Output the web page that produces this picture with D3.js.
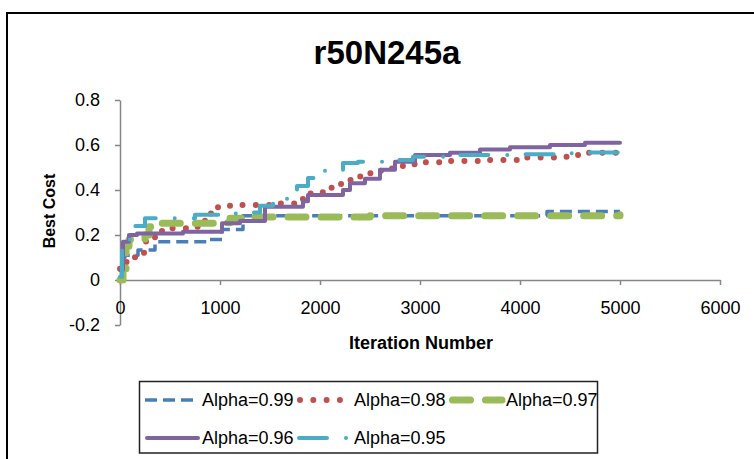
<!DOCTYPE html>
<html>
<head>
<meta charset="utf-8">
<script src="https://cdn.jsdelivr.net/npm/d3@7"></script>
<style>
    body { margin: 0; background: #fff; }
    svg text { font-family: "Liberation Sans", Arial, sans-serif; fill: #000; }
</style>
</head>
<body>
<svg id="chart" width="754" height="459"></svg>
<script>
// series names (legend order)
var seriesNames = ["Alpha=0.99", "Alpha=0.98", "Alpha=0.97", "Alpha=0.96", "Alpha=0.95"];

// step points: iteration -> best cost
var iter99 = [0, 50, 180, 350, 900, 1020, 1230, 4270, 5000];
var cost99 = [0.10, 0.11, 0.133, 0.17, 0.18, 0.225, 0.286, 0.305, 0.305];

var iter98 = [0, 60, 150, 240, 260, 420, 700, 850, 910, 980, 1100, 1550, 1800, 1880, 1980, 2080, 2170, 2270, 2370, 2490, 2610, 2750, 2880, 3000, 3280, 3580, 3970, 4380, 4510, 4630, 5000];
var cost98 = [0.05, 0.08, 0.107, 0.136, 0.19, 0.23, 0.237, 0.267, 0.30, 0.326, 0.333, 0.34, 0.36, 0.385, 0.39, 0.41, 0.427, 0.444, 0.46, 0.474, 0.496, 0.507, 0.514, 0.523, 0.529, 0.533, 0.545, 0.548, 0.556, 0.566, 0.566];

var iter97 = [0, 30, 60, 90, 250, 290, 400, 980, 1100, 1350, 2500, 5000];
var cost97 = [0.0, 0.05, 0.15, 0.18, 0.20, 0.237, 0.252, 0.255, 0.274, 0.28, 0.286, 0.29];

var iter96 = [0, 30, 90, 170, 630, 1020, 1200, 1450, 1830, 1880, 2230, 2300, 2450, 2600, 2750, 2950, 3300, 3600, 3900, 4300, 4650, 5000];
var cost96 = [0.044, 0.17, 0.20, 0.207, 0.215, 0.252, 0.262, 0.326, 0.35, 0.378, 0.40, 0.43, 0.45, 0.49, 0.526, 0.556, 0.566, 0.58, 0.59, 0.60, 0.61, 0.61];

var iter95 = [0, 20, 80, 140, 250, 750, 1000, 1300, 1400, 1530, 1670, 1770, 1880, 2050, 2230, 2380, 2670, 2930, 3300, 3980, 4480, 4650, 5000];
var cost95 = [0.015, 0.13, 0.18, 0.24, 0.274, 0.29, 0.296, 0.30, 0.33, 0.355, 0.378, 0.418, 0.453, 0.49, 0.52, 0.526, 0.533, 0.548, 0.556, 0.559, 0.563, 0.567, 0.567];

var xTicks = [0, 1000, 2000, 3000, 4000, 5000, 6000];
var yTicks = [-0.2, 0, 0.2, 0.4, 0.6, 0.8];

var seriesIters = [iter99, iter98, iter97, iter96, iter95];
var seriesCosts = [cost99, cost98, cost97, cost96, cost95];

// line styles per series (Excel 2007 palette)
var styles = [
    { color: "#4A7EBB", width: 3.5, dash: "12 6", cap: "butt" },
    { color: "#C0504D", width: 6, dash: "0 13.3", cap: "round" },
    { color: "#9BBB59", width: 7, dash: "18 15", cap: "round" },
    { color: "#8064A2", width: 4, dash: null, cap: "round" },
    { color: "#4BACC6", width: 4, dash: "28 19 0 19", cap: "round" }
];

var svg = d3.select("#chart");

// outer chart frame
svg.append("rect")
    .attr("x", 7).attr("y", 13)
    .attr("width", 780).attr("height", 480)
    .attr("fill", "#fff")
    .attr("stroke", "#000")
    .attr("stroke-width", 2);

svg.append("text")
    .attr("x", 387).attr("y", 64)
    .attr("text-anchor", "middle")
    .attr("font-size", 33)
    .attr("font-weight", "bold")
    .text("r50N245a");

var xScale = d3.scaleLinear().domain([0, 6000]).range([120, 720]);
var yScale = d3.scaleLinear().domain([-0.2, 0.8]).range([325, 100]);

var fmtY = function (d) { return d === 0 ? "0" : d.toFixed(1).replace("\u2212", "-"); };

var yAxis = svg.append("g")
    .attr("transform", "translate(" + xScale(0) + ",0)")
    .call(d3.axisLeft(yScale).tickValues(yTicks).tickFormat(fmtY)
        .tickSize(5).tickSizeOuter(0).tickPadding(15));

var xAxis = svg.append("g")
    .attr("transform", "translate(0," + yScale(0) + ")")
    .call(d3.axisBottom(xScale).tickValues(xTicks).tickFormat(d3.format("d"))
        .tickSize(5).tickSizeOuter(0).tickPadding(16));

[xAxis, yAxis].forEach(function (g) {
    g.select(".domain").attr("stroke", "#868686").attr("stroke-width", 1.5);
    g.selectAll(".tick line").attr("stroke", "#868686").attr("stroke-width", 1.5);
    g.selectAll(".tick text")
        .attr("font-size", 18)
        .attr("font-family", "Liberation Sans, Arial, sans-serif")
        .attr("fill", "#000");
});

// axis titles
svg.append("text")
    .attr("transform", "translate(55,211) rotate(-90)")
    .attr("text-anchor", "middle")
    .attr("font-size", 16)
    .attr("font-weight", "bold")
    .text("Best Cost");

svg.append("text")
    .attr("x", 421).attr("y", 349)
    .attr("text-anchor", "middle")
    .attr("font-size", 18)
    .attr("font-weight", "bold")
    .text("Iteration Number");

// series lines
var lineGen = d3.line()
    .x(function (d) { return xScale(d[0]); })
    .y(function (d) { return yScale(d[1]); })
    .curve(d3.curveStepAfter);

var plot = svg.append("g").attr("class", "series");

seriesNames.forEach(function (name, i) {
    var pts = seriesIters[i].map(function (t, j) { return [t, seriesCosts[i][j]]; });
    var s = styles[i];
    plot.append("path")
        .datum(pts)
        .attr("fill", "none")
        .attr("stroke", s.color)
        .attr("stroke-width", s.width)
        .attr("stroke-linecap", s.cap)
        .attr("stroke-linejoin", "round")
        .attr("stroke-dasharray", s.dash)
        .attr("d", lineGen);
});

// legend
var legend = svg.append("g").attr("class", "legend");
legend.append("rect")
    .attr("x", 139.5).attr("y", 381.5)
    .attr("width", 458).attr("height", 71.5)
    .attr("fill", "#fff")
    .attr("stroke", "#222")
    .attr("stroke-width", 1.5);

var legendPos = [
    { x: 145, y: 400 }, { x: 297, y: 400 }, { x: 449, y: 400 },
    { x: 145, y: 438 }, { x: 297, y: 438 }
];

seriesNames.forEach(function (name, i) {
    var p = legendPos[i];
    var s = styles[i];
    legend.append("line")
        .attr("x1", p.x + (s.cap === "round" ? s.width / 2 : 0))
        .attr("x2", p.x + 53)
        .attr("y1", p.y).attr("y2", p.y)
        .attr("stroke", s.color)
        .attr("stroke-width", s.width)
        .attr("stroke-linecap", s.cap)
        .attr("stroke-dasharray", s.dash);
    legend.append("text")
        .attr("x", p.x + 57)
        .attr("y", p.y)
        .attr("dy", "0.35em")
        .attr("font-size", 18)
        .text(name);
});
</script>
</body>
</html>
